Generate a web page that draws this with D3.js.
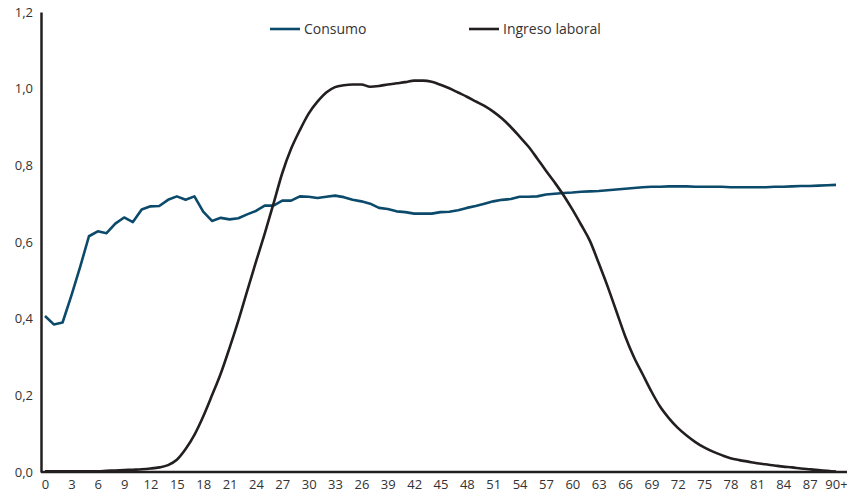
<!DOCTYPE html>
<html lang="es">
<head>
<meta charset="utf-8">
<title>Consumo e ingreso laboral por edad</title>
<script src="https://cdn.jsdelivr.net/npm/d3@7"></script>
<style>
  body { margin: 0; background: #fff; }
  text { font-family: "Open Sans", "Noto Sans", sans-serif; fill: #333; }
</style>
</head>
<body>
<div id="chart"></div>
<script>
// edades 0..90 (90 = 90+)
var ages = d3.range(0, 91)

var consumo = [
  0.407, 0.385, 0.390, 0.460, 0.535, 0.615, 0.628, 0.623, 0.648, 0.664,
  0.652, 0.685, 0.693, 0.694, 0.710, 0.719, 0.710, 0.719, 0.679, 0.655,
  0.663, 0.659, 0.662, 0.672, 0.681, 0.695, 0.695, 0.708, 0.708, 0.719,
  0.718, 0.715, 0.718, 0.721, 0.717, 0.710, 0.706, 0.700, 0.689, 0.686,
  0.680, 0.678, 0.674, 0.674, 0.674, 0.678, 0.679, 0.683, 0.689, 0.694,
  0.700, 0.706, 0.710, 0.712, 0.718, 0.718, 0.719, 0.724, 0.726, 0.728,
  0.729, 0.731, 0.732, 0.733, 0.735, 0.737, 0.739, 0.741, 0.743, 0.744,
  0.744, 0.745, 0.745, 0.745, 0.744, 0.744, 0.744, 0.744, 0.743, 0.743,
  0.743, 0.743, 0.743, 0.744, 0.744, 0.745, 0.746, 0.746, 0.747, 0.748,
  0.749
]

var ingreso = [
  0.002, 0.002, 0.002, 0.002, 0.002, 0.002, 0.002, 0.003, 0.004, 0.005,
  0.006, 0.007, 0.009, 0.012, 0.018, 0.032, 0.060, 0.097, 0.145, 0.200,
  0.257, 0.324, 0.395, 0.472, 0.548, 0.622, 0.700, 0.780, 0.843, 0.892,
  0.935, 0.966, 0.990, 1.004, 1.009, 1.011, 1.011, 1.005, 1.007, 1.011,
  1.014, 1.017, 1.021, 1.021, 1.018, 1.010, 1.001, 0.990, 0.979, 0.967,
  0.955, 0.940, 0.922, 0.900, 0.875, 0.849, 0.818, 0.786, 0.755, 0.722,
  0.685, 0.645, 0.603, 0.545, 0.485, 0.420, 0.355, 0.300, 0.255, 0.210,
  0.170, 0.140, 0.115, 0.095, 0.078, 0.064, 0.053, 0.044, 0.036, 0.031,
  0.027, 0.023, 0.020, 0.017, 0.014, 0.012, 0.009, 0.007, 0.005, 0.003,
  0.001
]

// etiquetas del eje x, cada 3 años (tal como aparecen)
var tickAges   = d3.range(0, 91, 3)
var tickLabels = ["0","3","6","9","12","15","18","21","24","27","30","33","26","39","42",
                  "45","48","51","54","57","60","63","66","69","72","75","78","81","84","87","90+"]

var yTicks = [0, 0.2, 0.4, 0.6, 0.8, 1.0, 1.2]

var series = [
  { name: "Consumo",         values: consumo, color: "#0b4a6b", curve: d3.curveLinear },
  { name: "Ingreso laboral", values: ingreso, color: "#231f20", curve: d3.curveMonotoneX }
]

var width = 847
var height = 496

var svg = d3.select("#chart")
  .append("svg")
    .attr("width", width)
    .attr("height", height)

var x = d3.scaleLinear().domain([0, 90]).range([45, 836])
var y = d3.scaleLinear().domain([0, 1.2]).range([472, 12])

var fmt = function(d) { return d3.format(".1f")(d).replace(".", ",") }

// eje y: solo línea y etiquetas
var yAxis = svg.append("g")
  .attr("transform", "translate(41,0)")
  .call(d3.axisLeft(y).tickValues(yTicks).tickFormat(fmt).tickSize(0).tickPadding(8))
yAxis.select(".domain").attr("stroke", "#231f20").attr("stroke-width", 2.5)
yAxis.selectAll("text").style("font-size", "13px").attr("fill", "#333")

// eje x
var xAxis = svg.append("g")
  .attr("transform", "translate(0," + y(0) + ")")
  .call(d3.axisBottom(x).tickValues(tickAges)
        .tickFormat(function(d, i) { return tickLabels[i] })
        .tickSize(0).tickPadding(8))
xAxis.select(".domain").remove()
xAxis.selectAll("text").style("font-size", "13px").attr("fill", "#333")
svg.append("line")
  .attr("x1", 41).attr("x2", width)
  .attr("y1", y(0)).attr("y2", y(0))
  .attr("stroke", "#231f20").attr("stroke-width", 2.5)

// líneas
svg.selectAll(".serie")
  .data(series)
  .enter()
  .append("path")
    .attr("class", "serie")
    .attr("d", function(s) {
      return d3.line()
        .x(function(d, i) { return x(ages[i]) })
        .y(function(d) { return y(d) })
        .curve(s.curve)(s.values)
    })
    .attr("fill", "none")
    .attr("stroke", function(s) { return s.color })
    .attr("stroke-width", 2.6)
    .attr("stroke-linejoin", "round")

// leyenda
var legendX = [270, 469]
var legend = svg.selectAll(".leg")
  .data(series)
  .enter()
  .append("g")
    .attr("class", "leg")
    .attr("transform", function(s, i) { return "translate(" + legendX[i] + ",29)" })
legend.append("line")
  .attr("x1", 0).attr("x2", 30)
  .attr("stroke", function(s) { return s.color })
  .attr("stroke-width", 2.6)
legend.append("text")
  .attr("x", 34)
  .attr("dy", "0.35em")
  .style("font-size", "14px")
  .text(function(s) { return s.name })
</script>
</body>
</html>
